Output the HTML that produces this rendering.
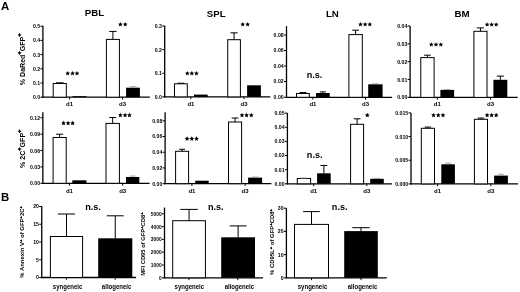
<!DOCTYPE html>
<html><head><meta charset="utf-8"><style>
html,body{margin:0;padding:0;background:#fff;width:520px;height:292px;overflow:hidden}
svg{display:block;filter:grayscale(1)}
text{font-family:"Liberation Sans", sans-serif;fill:#000}
</style></head><body>
<svg width="520" height="292" viewBox="0 0 520 292">
<rect width="520" height="292" fill="#fff"/>
<text transform="translate(1.00 10.10) scale(1.0000 1.0000)" font-size="11.40" font-weight="bold" text-anchor="start">A</text>
<text transform="translate(94.50 16.00) scale(1.0450 1.0000)" font-size="9.30" font-weight="bold" text-anchor="middle">PBL</text>
<text transform="translate(216.25 16.80) scale(1.0450 1.0000)" font-size="9.30" font-weight="bold" text-anchor="middle">SPL</text>
<text transform="translate(332.35 16.70) scale(1.0450 1.0000)" font-size="9.30" font-weight="bold" text-anchor="middle">LN</text>
<text transform="translate(462.05 16.80) scale(1.0450 1.0000)" font-size="9.30" font-weight="bold" text-anchor="middle">BM</text>
<line x1="42.90" y1="25.80" x2="42.90" y2="97.85" stroke="#000" stroke-width="1.3"/>
<line x1="42.25" y1="97.20" x2="149.80" y2="97.20" stroke="#000" stroke-width="1.3"/>
<line x1="40.40" y1="97.20" x2="42.90" y2="97.20" stroke="#000" stroke-width="1.0"/>
<text transform="translate(40.10 99.15) scale(1.0000 1.0000)" font-size="5.20" font-weight="bold" text-anchor="end">0.0</text>
<line x1="40.40" y1="83.00" x2="42.90" y2="83.00" stroke="#000" stroke-width="1.0"/>
<text transform="translate(40.10 84.95) scale(1.0000 1.0000)" font-size="5.20" font-weight="bold" text-anchor="end">0.1</text>
<line x1="40.40" y1="68.80" x2="42.90" y2="68.80" stroke="#000" stroke-width="1.0"/>
<text transform="translate(40.10 70.75) scale(1.0000 1.0000)" font-size="5.20" font-weight="bold" text-anchor="end">0.2</text>
<line x1="40.40" y1="54.60" x2="42.90" y2="54.60" stroke="#000" stroke-width="1.0"/>
<text transform="translate(40.10 56.55) scale(1.0000 1.0000)" font-size="5.20" font-weight="bold" text-anchor="end">0.3</text>
<line x1="40.40" y1="40.40" x2="42.90" y2="40.40" stroke="#000" stroke-width="1.0"/>
<text transform="translate(40.10 42.35) scale(1.0000 1.0000)" font-size="5.20" font-weight="bold" text-anchor="end">0.4</text>
<line x1="40.40" y1="26.20" x2="42.90" y2="26.20" stroke="#000" stroke-width="1.0"/>
<text transform="translate(40.10 28.15) scale(1.0000 1.0000)" font-size="5.20" font-weight="bold" text-anchor="end">0.5</text>
<line x1="69.60" y1="97.20" x2="69.60" y2="99.50" stroke="#000" stroke-width="1.0"/>
<line x1="122.60" y1="97.20" x2="122.60" y2="99.50" stroke="#000" stroke-width="1.0"/>
<text transform="translate(69.60 105.80) scale(1.0000 1.0000)" font-size="6.00" font-weight="bold" text-anchor="middle">d1</text>
<text transform="translate(122.60 105.80) scale(1.0000 1.0000)" font-size="6.00" font-weight="bold" text-anchor="middle">d3</text>
<rect x="53.20" y="83.50" width="13.10" height="13.70" fill="#fff" stroke="#000" stroke-width="1"/>
<line x1="56.00" y1="82.80" x2="63.50" y2="82.80" stroke="#000" stroke-width="1.0"/>
<rect x="72.50" y="96.20" width="14.00" height="1.00" fill="#000"/>
<rect x="106.40" y="39.40" width="13.00" height="57.80" fill="#fff" stroke="#000" stroke-width="1"/>
<line x1="112.90" y1="31.40" x2="112.90" y2="39.40" stroke="#000" stroke-width="1.0"/>
<line x1="109.20" y1="31.40" x2="116.60" y2="31.40" stroke="#000" stroke-width="1.0"/>
<rect x="126.10" y="87.70" width="13.80" height="9.50" fill="#000"/>
<line x1="133.00" y1="86.60" x2="133.00" y2="87.70" stroke="#999" stroke-width="0.8"/>
<line x1="129.50" y1="86.60" x2="136.50" y2="86.60" stroke="#999" stroke-width="0.8"/>
<polygon points="67.70,70.95 68.41,72.43 70.03,72.64 68.84,73.77 69.14,75.38 67.70,74.60 66.26,75.38 66.56,73.77 65.37,72.64 66.99,72.43" fill="#000"/>
<polygon points="72.55,70.95 73.26,72.43 74.88,72.64 73.69,73.77 73.99,75.38 72.55,74.60 71.11,75.38 71.41,73.77 70.22,72.64 71.84,72.43" fill="#000"/>
<polygon points="77.00,70.95 77.71,72.43 79.33,72.64 78.14,73.77 78.44,75.38 77.00,74.60 75.56,75.38 75.86,73.77 74.67,72.64 76.29,72.43" fill="#000"/>
<polygon points="120.40,21.95 121.11,23.43 122.73,23.64 121.54,24.77 121.84,26.38 120.40,25.60 118.96,26.38 119.26,24.77 118.07,23.64 119.69,23.43" fill="#000"/>
<polygon points="125.20,21.95 125.91,23.43 127.53,23.64 126.34,24.77 126.64,26.38 125.20,25.60 123.76,26.38 124.06,24.77 122.87,23.64 124.49,23.43" fill="#000"/>
<line x1="164.70" y1="25.80" x2="164.70" y2="97.55" stroke="#000" stroke-width="1.3"/>
<line x1="164.05" y1="96.90" x2="270.30" y2="96.90" stroke="#000" stroke-width="1.3"/>
<line x1="162.20" y1="96.90" x2="164.70" y2="96.90" stroke="#000" stroke-width="1.0"/>
<text transform="translate(161.90 98.85) scale(1.0000 1.0000)" font-size="5.20" font-weight="bold" text-anchor="end">0.0</text>
<line x1="162.20" y1="73.27" x2="164.70" y2="73.27" stroke="#000" stroke-width="1.0"/>
<text transform="translate(161.90 75.22) scale(1.0000 1.0000)" font-size="5.20" font-weight="bold" text-anchor="end">0.1</text>
<line x1="162.20" y1="49.63" x2="164.70" y2="49.63" stroke="#000" stroke-width="1.0"/>
<text transform="translate(161.90 51.58) scale(1.0000 1.0000)" font-size="5.20" font-weight="bold" text-anchor="end">0.2</text>
<line x1="162.20" y1="26.00" x2="164.70" y2="26.00" stroke="#000" stroke-width="1.0"/>
<text transform="translate(161.90 27.95) scale(1.0000 1.0000)" font-size="5.20" font-weight="bold" text-anchor="end">0.3</text>
<line x1="190.90" y1="96.90" x2="190.90" y2="99.20" stroke="#000" stroke-width="1.0"/>
<line x1="244.00" y1="96.90" x2="244.00" y2="99.20" stroke="#000" stroke-width="1.0"/>
<text transform="translate(190.90 105.80) scale(1.0000 1.0000)" font-size="6.00" font-weight="bold" text-anchor="middle">d1</text>
<text transform="translate(244.00 105.80) scale(1.0000 1.0000)" font-size="6.00" font-weight="bold" text-anchor="middle">d3</text>
<rect x="174.50" y="83.80" width="12.80" height="13.10" fill="#fff" stroke="#000" stroke-width="1"/>
<line x1="177.65" y1="83.20" x2="184.15" y2="83.20" stroke="#000" stroke-width="1.0"/>
<rect x="194.00" y="94.60" width="13.70" height="2.30" fill="#000"/>
<rect x="227.70" y="39.70" width="12.70" height="57.20" fill="#fff" stroke="#000" stroke-width="1"/>
<line x1="234.05" y1="32.85" x2="234.05" y2="39.70" stroke="#000" stroke-width="1.0"/>
<line x1="230.45" y1="32.85" x2="237.65" y2="32.85" stroke="#000" stroke-width="1.0"/>
<rect x="247.10" y="85.30" width="13.80" height="11.60" fill="#000"/>
<polygon points="187.30,70.95 188.01,72.43 189.63,72.64 188.44,73.77 188.74,75.38 187.30,74.60 185.86,75.38 186.16,73.77 184.97,72.64 186.59,72.43" fill="#000"/>
<polygon points="191.80,70.95 192.51,72.43 194.13,72.64 192.94,73.77 193.24,75.38 191.80,74.60 190.36,75.38 190.66,73.77 189.47,72.64 191.09,72.43" fill="#000"/>
<polygon points="196.40,70.95 197.11,72.43 198.73,72.64 197.54,73.77 197.84,75.38 196.40,74.60 194.96,75.38 195.26,73.77 194.07,72.64 195.69,72.43" fill="#000"/>
<polygon points="242.70,21.95 243.41,23.43 245.03,23.64 243.84,24.77 244.14,26.38 242.70,25.60 241.26,26.38 241.56,24.77 240.37,23.64 241.99,23.43" fill="#000"/>
<polygon points="247.65,21.95 248.36,23.43 249.98,23.64 248.79,24.77 249.09,26.38 247.65,25.60 246.21,26.38 246.51,24.77 245.32,23.64 246.94,23.43" fill="#000"/>
<line x1="286.50" y1="26.20" x2="286.50" y2="97.95" stroke="#000" stroke-width="1.3"/>
<line x1="285.85" y1="97.30" x2="392.10" y2="97.30" stroke="#000" stroke-width="1.3"/>
<line x1="284.00" y1="97.30" x2="286.50" y2="97.30" stroke="#000" stroke-width="1.0"/>
<text transform="translate(283.70 99.25) scale(1.0000 1.0000)" font-size="5.20" font-weight="bold" text-anchor="end">0.00</text>
<line x1="284.00" y1="81.50" x2="286.50" y2="81.50" stroke="#000" stroke-width="1.0"/>
<text transform="translate(283.70 83.45) scale(1.0000 1.0000)" font-size="5.20" font-weight="bold" text-anchor="end">0.02</text>
<line x1="284.00" y1="66.00" x2="286.50" y2="66.00" stroke="#000" stroke-width="1.0"/>
<text transform="translate(283.70 67.95) scale(1.0000 1.0000)" font-size="5.20" font-weight="bold" text-anchor="end">0.04</text>
<line x1="284.00" y1="50.50" x2="286.50" y2="50.50" stroke="#000" stroke-width="1.0"/>
<text transform="translate(283.70 52.45) scale(1.0000 1.0000)" font-size="5.20" font-weight="bold" text-anchor="end">0.06</text>
<line x1="284.00" y1="35.00" x2="286.50" y2="35.00" stroke="#000" stroke-width="1.0"/>
<text transform="translate(283.70 36.95) scale(1.0000 1.0000)" font-size="5.20" font-weight="bold" text-anchor="end">0.08</text>
<line x1="312.90" y1="97.30" x2="312.90" y2="99.60" stroke="#000" stroke-width="1.0"/>
<line x1="365.50" y1="97.30" x2="365.50" y2="99.60" stroke="#000" stroke-width="1.0"/>
<text transform="translate(312.90 105.80) scale(1.0000 1.0000)" font-size="6.00" font-weight="bold" text-anchor="middle">d1</text>
<text transform="translate(365.50 105.80) scale(1.0000 1.0000)" font-size="6.00" font-weight="bold" text-anchor="middle">d3</text>
<rect x="296.50" y="93.50" width="12.80" height="3.80" fill="#fff" stroke="#000" stroke-width="1"/>
<line x1="302.90" y1="92.50" x2="302.90" y2="93.50" stroke="#000" stroke-width="1.0"/>
<line x1="299.55" y1="92.50" x2="306.25" y2="92.50" stroke="#000" stroke-width="1.0"/>
<rect x="316.00" y="93.00" width="13.70" height="4.30" fill="#000"/>
<line x1="322.85" y1="91.90" x2="322.85" y2="93.00" stroke="#000" stroke-width="1.0"/>
<line x1="319.85" y1="91.90" x2="325.85" y2="91.90" stroke="#000" stroke-width="1.0"/>
<rect x="348.90" y="34.60" width="13.40" height="62.70" fill="#fff" stroke="#000" stroke-width="1"/>
<line x1="355.60" y1="30.20" x2="355.60" y2="34.60" stroke="#000" stroke-width="1.0"/>
<line x1="352.20" y1="30.20" x2="359.00" y2="30.20" stroke="#000" stroke-width="1.0"/>
<rect x="368.20" y="84.30" width="14.40" height="13.00" fill="#000"/>
<line x1="372.40" y1="83.70" x2="378.40" y2="83.70" stroke="#999" stroke-width="0.8"/>
<polygon points="360.50,21.95 361.21,23.43 362.83,23.64 361.64,24.77 361.94,26.38 360.50,25.60 359.06,26.38 359.36,24.77 358.17,23.64 359.79,23.43" fill="#000"/>
<polygon points="365.10,21.95 365.81,23.43 367.43,23.64 366.24,24.77 366.54,26.38 365.10,25.60 363.66,26.38 363.96,24.77 362.77,23.64 364.39,23.43" fill="#000"/>
<polygon points="369.80,21.95 370.51,23.43 372.13,23.64 370.94,24.77 371.24,26.38 369.80,25.60 368.36,26.38 368.66,24.77 367.47,23.64 369.09,23.43" fill="#000"/>
<text transform="translate(314.50 77.90) scale(0.9500 1.0000)" font-size="9.60" font-weight="bold" text-anchor="middle">n.s.</text>
<line x1="410.10" y1="26.00" x2="410.10" y2="98.05" stroke="#000" stroke-width="1.3"/>
<line x1="409.45" y1="97.40" x2="517.70" y2="97.40" stroke="#000" stroke-width="1.3"/>
<line x1="407.60" y1="97.40" x2="410.10" y2="97.40" stroke="#000" stroke-width="1.0"/>
<text transform="translate(407.30 99.35) scale(1.0000 1.0000)" font-size="5.20" font-weight="bold" text-anchor="end">0.00</text>
<line x1="407.60" y1="79.55" x2="410.10" y2="79.55" stroke="#000" stroke-width="1.0"/>
<text transform="translate(407.30 81.50) scale(1.0000 1.0000)" font-size="5.20" font-weight="bold" text-anchor="end">0.01</text>
<line x1="407.60" y1="61.70" x2="410.10" y2="61.70" stroke="#000" stroke-width="1.0"/>
<text transform="translate(407.30 63.65) scale(1.0000 1.0000)" font-size="5.20" font-weight="bold" text-anchor="end">0.02</text>
<line x1="407.60" y1="43.85" x2="410.10" y2="43.85" stroke="#000" stroke-width="1.0"/>
<text transform="translate(407.30 45.80) scale(1.0000 1.0000)" font-size="5.20" font-weight="bold" text-anchor="end">0.03</text>
<line x1="407.60" y1="26.00" x2="410.10" y2="26.00" stroke="#000" stroke-width="1.0"/>
<text transform="translate(407.30 27.95) scale(1.0000 1.0000)" font-size="5.20" font-weight="bold" text-anchor="end">0.04</text>
<line x1="437.30" y1="97.40" x2="437.30" y2="99.70" stroke="#000" stroke-width="1.0"/>
<line x1="490.50" y1="97.40" x2="490.50" y2="99.70" stroke="#000" stroke-width="1.0"/>
<text transform="translate(437.30 105.80) scale(1.0000 1.0000)" font-size="6.00" font-weight="bold" text-anchor="middle">d1</text>
<text transform="translate(490.50 105.80) scale(1.0000 1.0000)" font-size="6.00" font-weight="bold" text-anchor="middle">d3</text>
<rect x="420.80" y="57.60" width="13.30" height="39.80" fill="#fff" stroke="#000" stroke-width="1"/>
<line x1="427.45" y1="55.20" x2="427.45" y2="57.60" stroke="#000" stroke-width="1.0"/>
<line x1="424.10" y1="55.20" x2="430.80" y2="55.20" stroke="#000" stroke-width="1.0"/>
<rect x="440.40" y="89.90" width="13.70" height="7.50" fill="#000"/>
<line x1="444.25" y1="89.40" x2="450.25" y2="89.40" stroke="#999" stroke-width="0.8"/>
<rect x="473.90" y="31.30" width="13.10" height="66.10" fill="#fff" stroke="#000" stroke-width="1"/>
<line x1="480.45" y1="27.90" x2="480.45" y2="31.30" stroke="#000" stroke-width="1.0"/>
<line x1="476.85" y1="27.90" x2="484.05" y2="27.90" stroke="#000" stroke-width="1.0"/>
<rect x="493.40" y="79.80" width="13.90" height="17.60" fill="#000"/>
<line x1="500.35" y1="76.10" x2="500.35" y2="79.80" stroke="#000" stroke-width="1.0"/>
<line x1="496.75" y1="76.10" x2="503.95" y2="76.10" stroke="#000" stroke-width="1.0"/>
<polygon points="431.30,42.15 432.01,43.63 433.63,43.84 432.44,44.97 432.74,46.58 431.30,45.80 429.86,46.58 430.16,44.97 428.97,43.84 430.59,43.63" fill="#000"/>
<polygon points="436.00,42.15 436.71,43.63 438.33,43.84 437.14,44.97 437.44,46.58 436.00,45.80 434.56,46.58 434.86,44.97 433.67,43.84 435.29,43.63" fill="#000"/>
<polygon points="440.80,42.15 441.51,43.63 443.13,43.84 441.94,44.97 442.24,46.58 440.80,45.80 439.36,46.58 439.66,44.97 438.47,43.84 440.09,43.63" fill="#000"/>
<polygon points="487.10,22.15 487.81,23.63 489.43,23.84 488.24,24.97 488.54,26.58 487.10,25.80 485.66,26.58 485.96,24.97 484.77,23.84 486.39,23.63" fill="#000"/>
<polygon points="491.65,22.15 492.36,23.63 493.98,23.84 492.79,24.97 493.09,26.58 491.65,25.80 490.21,26.58 490.51,24.97 489.32,23.84 490.94,23.63" fill="#000"/>
<polygon points="496.20,22.15 496.91,23.63 498.53,23.84 497.34,24.97 497.64,26.58 496.20,25.80 494.76,26.58 495.06,24.97 493.87,23.84 495.49,23.63" fill="#000"/>
<line x1="42.85" y1="112.20" x2="42.85" y2="183.95" stroke="#000" stroke-width="1.3"/>
<line x1="42.20" y1="183.30" x2="149.60" y2="183.30" stroke="#000" stroke-width="1.3"/>
<line x1="40.35" y1="183.30" x2="42.85" y2="183.30" stroke="#000" stroke-width="1.0"/>
<text transform="translate(40.05 185.25) scale(1.0000 1.0000)" font-size="5.20" font-weight="bold" text-anchor="end">0.00</text>
<line x1="40.35" y1="166.93" x2="42.85" y2="166.93" stroke="#000" stroke-width="1.0"/>
<text transform="translate(40.05 168.88) scale(1.0000 1.0000)" font-size="5.20" font-weight="bold" text-anchor="end">0.03</text>
<line x1="40.35" y1="150.55" x2="42.85" y2="150.55" stroke="#000" stroke-width="1.0"/>
<text transform="translate(40.05 152.50) scale(1.0000 1.0000)" font-size="5.20" font-weight="bold" text-anchor="end">0.06</text>
<line x1="40.35" y1="134.18" x2="42.85" y2="134.18" stroke="#000" stroke-width="1.0"/>
<text transform="translate(40.05 136.12) scale(1.0000 1.0000)" font-size="5.20" font-weight="bold" text-anchor="end">0.09</text>
<line x1="40.35" y1="117.80" x2="42.85" y2="117.80" stroke="#000" stroke-width="1.0"/>
<text transform="translate(40.05 119.75) scale(1.0000 1.0000)" font-size="5.20" font-weight="bold" text-anchor="end">0.12</text>
<line x1="69.40" y1="183.30" x2="69.40" y2="185.60" stroke="#000" stroke-width="1.0"/>
<line x1="122.70" y1="183.30" x2="122.70" y2="185.60" stroke="#000" stroke-width="1.0"/>
<text transform="translate(69.40 192.60) scale(1.0000 1.0000)" font-size="6.00" font-weight="bold" text-anchor="middle">d1</text>
<text transform="translate(122.70 192.60) scale(1.0000 1.0000)" font-size="6.00" font-weight="bold" text-anchor="middle">d3</text>
<rect x="53.10" y="137.50" width="13.10" height="45.80" fill="#fff" stroke="#000" stroke-width="1"/>
<line x1="59.65" y1="134.20" x2="59.65" y2="137.50" stroke="#000" stroke-width="1.0"/>
<line x1="56.15" y1="134.20" x2="63.15" y2="134.20" stroke="#000" stroke-width="1.0"/>
<rect x="72.30" y="180.30" width="14.10" height="3.00" fill="#000"/>
<rect x="106.00" y="123.40" width="13.40" height="59.90" fill="#fff" stroke="#000" stroke-width="1"/>
<line x1="112.70" y1="117.50" x2="112.70" y2="123.40" stroke="#000" stroke-width="1.0"/>
<line x1="109.20" y1="117.50" x2="116.20" y2="117.50" stroke="#000" stroke-width="1.0"/>
<rect x="126.00" y="177.00" width="13.30" height="6.30" fill="#000"/>
<line x1="132.65" y1="176.00" x2="132.65" y2="177.00" stroke="#999" stroke-width="0.8"/>
<line x1="129.65" y1="176.00" x2="135.65" y2="176.00" stroke="#999" stroke-width="0.8"/>
<polygon points="63.50,120.75 64.21,122.23 65.83,122.44 64.64,123.57 64.94,125.18 63.50,124.40 62.06,125.18 62.36,123.57 61.17,122.44 62.79,122.23" fill="#000"/>
<polygon points="68.10,120.75 68.81,122.23 70.43,122.44 69.24,123.57 69.54,125.18 68.10,124.40 66.66,125.18 66.96,123.57 65.77,122.44 67.39,122.23" fill="#000"/>
<polygon points="72.60,120.75 73.31,122.23 74.93,122.44 73.74,123.57 74.04,125.18 72.60,124.40 71.16,125.18 71.46,123.57 70.27,122.44 71.89,122.23" fill="#000"/>
<polygon points="120.40,112.75 121.11,114.23 122.73,114.44 121.54,115.57 121.84,117.18 120.40,116.40 118.96,117.18 119.26,115.57 118.07,114.44 119.69,114.23" fill="#000"/>
<polygon points="125.10,112.75 125.81,114.23 127.43,114.44 126.24,115.57 126.54,117.18 125.10,116.40 123.66,117.18 123.96,115.57 122.77,114.44 124.39,114.23" fill="#000"/>
<polygon points="129.45,112.75 130.16,114.23 131.78,114.44 130.59,115.57 130.89,117.18 129.45,116.40 128.01,117.18 128.31,115.57 127.12,114.44 128.74,114.23" fill="#000"/>
<line x1="165.10" y1="112.30" x2="165.10" y2="184.30" stroke="#000" stroke-width="1.3"/>
<line x1="164.45" y1="183.65" x2="271.40" y2="183.65" stroke="#000" stroke-width="1.3"/>
<line x1="162.60" y1="183.65" x2="165.10" y2="183.65" stroke="#000" stroke-width="1.0"/>
<text transform="translate(162.30 185.60) scale(1.0000 1.0000)" font-size="5.20" font-weight="bold" text-anchor="end">0.00</text>
<line x1="162.60" y1="167.94" x2="165.10" y2="167.94" stroke="#000" stroke-width="1.0"/>
<text transform="translate(162.30 169.89) scale(1.0000 1.0000)" font-size="5.20" font-weight="bold" text-anchor="end">0.02</text>
<line x1="162.60" y1="152.22" x2="165.10" y2="152.22" stroke="#000" stroke-width="1.0"/>
<text transform="translate(162.30 154.17) scale(1.0000 1.0000)" font-size="5.20" font-weight="bold" text-anchor="end">0.04</text>
<line x1="162.60" y1="136.51" x2="165.10" y2="136.51" stroke="#000" stroke-width="1.0"/>
<text transform="translate(162.30 138.46) scale(1.0000 1.0000)" font-size="5.20" font-weight="bold" text-anchor="end">0.06</text>
<line x1="162.60" y1="120.80" x2="165.10" y2="120.80" stroke="#000" stroke-width="1.0"/>
<text transform="translate(162.30 122.75) scale(1.0000 1.0000)" font-size="5.20" font-weight="bold" text-anchor="end">0.08</text>
<line x1="191.90" y1="183.65" x2="191.90" y2="185.95" stroke="#000" stroke-width="1.0"/>
<line x1="245.10" y1="183.65" x2="245.10" y2="185.95" stroke="#000" stroke-width="1.0"/>
<text transform="translate(191.90 192.60) scale(1.0000 1.0000)" font-size="6.00" font-weight="bold" text-anchor="middle">d1</text>
<text transform="translate(245.10 192.60) scale(1.0000 1.0000)" font-size="6.00" font-weight="bold" text-anchor="middle">d3</text>
<rect x="175.60" y="151.30" width="13.00" height="32.35" fill="#fff" stroke="#000" stroke-width="1"/>
<line x1="182.10" y1="149.30" x2="182.10" y2="151.30" stroke="#000" stroke-width="1.0"/>
<line x1="179.10" y1="149.30" x2="185.10" y2="149.30" stroke="#000" stroke-width="1.0"/>
<rect x="195.20" y="180.70" width="13.50" height="2.95" fill="#000"/>
<rect x="228.50" y="122.00" width="13.10" height="61.65" fill="#fff" stroke="#000" stroke-width="1"/>
<line x1="235.05" y1="118.00" x2="235.05" y2="122.00" stroke="#000" stroke-width="1.0"/>
<line x1="231.65" y1="118.00" x2="238.45" y2="118.00" stroke="#000" stroke-width="1.0"/>
<rect x="248.10" y="177.60" width="14.00" height="6.05" fill="#000"/>
<line x1="252.10" y1="177.00" x2="258.10" y2="177.00" stroke="#999" stroke-width="0.8"/>
<polygon points="187.10,136.35 187.81,137.83 189.43,138.04 188.24,139.17 188.54,140.78 187.10,140.00 185.66,140.78 185.96,139.17 184.77,138.04 186.39,137.83" fill="#000"/>
<polygon points="191.80,136.35 192.51,137.83 194.13,138.04 192.94,139.17 193.24,140.78 191.80,140.00 190.36,140.78 190.66,139.17 189.47,138.04 191.09,137.83" fill="#000"/>
<polygon points="196.60,136.35 197.31,137.83 198.93,138.04 197.74,139.17 198.04,140.78 196.60,140.00 195.16,140.78 195.46,139.17 194.27,138.04 195.89,137.83" fill="#000"/>
<polygon points="242.00,112.75 242.71,114.23 244.33,114.44 243.14,115.57 243.44,117.18 242.00,116.40 240.56,117.18 240.86,115.57 239.67,114.44 241.29,114.23" fill="#000"/>
<polygon points="246.60,112.75 247.31,114.23 248.93,114.44 247.74,115.57 248.04,117.18 246.60,116.40 245.16,117.18 245.46,115.57 244.27,114.44 245.89,114.23" fill="#000"/>
<polygon points="251.30,112.75 252.01,114.23 253.63,114.44 252.44,115.57 252.74,117.18 251.30,116.40 249.86,117.18 250.16,115.57 248.97,114.44 250.59,114.23" fill="#000"/>
<line x1="287.40" y1="113.10" x2="287.40" y2="184.45" stroke="#000" stroke-width="1.3"/>
<line x1="286.75" y1="183.80" x2="391.90" y2="183.80" stroke="#000" stroke-width="1.3"/>
<line x1="284.90" y1="183.80" x2="287.40" y2="183.80" stroke="#000" stroke-width="1.0"/>
<text transform="translate(284.60 185.75) scale(1.0000 1.0000)" font-size="5.20" font-weight="bold" text-anchor="end">0.00</text>
<line x1="284.90" y1="169.66" x2="287.40" y2="169.66" stroke="#000" stroke-width="1.0"/>
<text transform="translate(284.60 171.61) scale(1.0000 1.0000)" font-size="5.20" font-weight="bold" text-anchor="end">0.01</text>
<line x1="284.90" y1="155.52" x2="287.40" y2="155.52" stroke="#000" stroke-width="1.0"/>
<text transform="translate(284.60 157.47) scale(1.0000 1.0000)" font-size="5.20" font-weight="bold" text-anchor="end">0.02</text>
<line x1="284.90" y1="141.38" x2="287.40" y2="141.38" stroke="#000" stroke-width="1.0"/>
<text transform="translate(284.60 143.33) scale(1.0000 1.0000)" font-size="5.20" font-weight="bold" text-anchor="end">0.03</text>
<line x1="284.90" y1="127.24" x2="287.40" y2="127.24" stroke="#000" stroke-width="1.0"/>
<text transform="translate(284.60 129.19) scale(1.0000 1.0000)" font-size="5.20" font-weight="bold" text-anchor="end">0.04</text>
<line x1="284.90" y1="113.10" x2="287.40" y2="113.10" stroke="#000" stroke-width="1.0"/>
<text transform="translate(284.60 115.05) scale(1.0000 1.0000)" font-size="5.20" font-weight="bold" text-anchor="end">0.05</text>
<line x1="313.70" y1="183.80" x2="313.70" y2="186.10" stroke="#000" stroke-width="1.0"/>
<line x1="366.80" y1="183.80" x2="366.80" y2="186.10" stroke="#000" stroke-width="1.0"/>
<text transform="translate(313.70 192.60) scale(1.0000 1.0000)" font-size="6.00" font-weight="bold" text-anchor="middle">d1</text>
<text transform="translate(366.80 192.60) scale(1.0000 1.0000)" font-size="6.00" font-weight="bold" text-anchor="middle">d3</text>
<rect x="297.30" y="178.50" width="13.30" height="5.30" fill="#fff" stroke="#000" stroke-width="1"/>
<line x1="300.95" y1="178.00" x2="306.95" y2="178.00" stroke="#999" stroke-width="0.8"/>
<rect x="317.10" y="173.30" width="13.60" height="10.50" fill="#000"/>
<line x1="323.90" y1="165.50" x2="323.90" y2="173.30" stroke="#000" stroke-width="1.0"/>
<line x1="320.45" y1="165.50" x2="327.35" y2="165.50" stroke="#000" stroke-width="1.0"/>
<rect x="350.60" y="124.30" width="13.00" height="59.50" fill="#fff" stroke="#000" stroke-width="1"/>
<line x1="357.10" y1="118.80" x2="357.10" y2="124.30" stroke="#000" stroke-width="1.0"/>
<line x1="353.70" y1="118.80" x2="360.50" y2="118.80" stroke="#000" stroke-width="1.0"/>
<rect x="370.20" y="178.80" width="13.60" height="5.00" fill="#000"/>
<line x1="374.00" y1="178.30" x2="380.00" y2="178.30" stroke="#999" stroke-width="0.8"/>
<polygon points="367.30,112.85 368.01,114.33 369.63,114.54 368.44,115.67 368.74,117.28 367.30,116.50 365.86,117.28 366.16,115.67 364.97,114.54 366.59,114.33" fill="#000"/>
<text transform="translate(314.70 157.90) scale(0.9500 1.0000)" font-size="9.60" font-weight="bold" text-anchor="middle">n.s.</text>
<line x1="411.00" y1="112.90" x2="411.00" y2="184.55" stroke="#000" stroke-width="1.3"/>
<line x1="410.35" y1="183.90" x2="518.10" y2="183.90" stroke="#000" stroke-width="1.3"/>
<line x1="408.50" y1="183.90" x2="411.00" y2="183.90" stroke="#000" stroke-width="1.0"/>
<text transform="translate(408.20 185.85) scale(1.0000 1.0000)" font-size="5.20" font-weight="bold" text-anchor="end">0.000</text>
<line x1="408.50" y1="160.23" x2="411.00" y2="160.23" stroke="#000" stroke-width="1.0"/>
<text transform="translate(408.20 162.18) scale(1.0000 1.0000)" font-size="5.20" font-weight="bold" text-anchor="end">0.005</text>
<line x1="408.50" y1="136.57" x2="411.00" y2="136.57" stroke="#000" stroke-width="1.0"/>
<text transform="translate(408.20 138.52) scale(1.0000 1.0000)" font-size="5.20" font-weight="bold" text-anchor="end">0.010</text>
<line x1="408.50" y1="112.90" x2="411.00" y2="112.90" stroke="#000" stroke-width="1.0"/>
<text transform="translate(408.20 114.85) scale(1.0000 1.0000)" font-size="5.20" font-weight="bold" text-anchor="end">0.015</text>
<line x1="437.60" y1="183.90" x2="437.60" y2="186.20" stroke="#000" stroke-width="1.0"/>
<line x1="490.80" y1="183.90" x2="490.80" y2="186.20" stroke="#000" stroke-width="1.0"/>
<text transform="translate(437.60 192.60) scale(1.0000 1.0000)" font-size="6.00" font-weight="bold" text-anchor="middle">d1</text>
<text transform="translate(490.80 192.60) scale(1.0000 1.0000)" font-size="6.00" font-weight="bold" text-anchor="middle">d3</text>
<rect x="421.30" y="128.30" width="13.20" height="55.60" fill="#fff" stroke="#000" stroke-width="1"/>
<line x1="427.90" y1="127.10" x2="427.90" y2="128.30" stroke="#000" stroke-width="1.0"/>
<line x1="424.65" y1="127.10" x2="431.15" y2="127.10" stroke="#000" stroke-width="1.0"/>
<rect x="441.30" y="164.30" width="13.60" height="19.60" fill="#000"/>
<line x1="448.10" y1="163.10" x2="448.10" y2="164.30" stroke="#999" stroke-width="0.8"/>
<line x1="444.85" y1="163.10" x2="451.35" y2="163.10" stroke="#999" stroke-width="0.8"/>
<rect x="474.40" y="119.30" width="13.10" height="64.60" fill="#fff" stroke="#000" stroke-width="1"/>
<line x1="480.95" y1="118.10" x2="480.95" y2="119.30" stroke="#000" stroke-width="1.0"/>
<line x1="477.70" y1="118.10" x2="484.20" y2="118.10" stroke="#000" stroke-width="1.0"/>
<rect x="494.10" y="175.60" width="13.80" height="8.30" fill="#000"/>
<line x1="501.00" y1="174.20" x2="501.00" y2="175.60" stroke="#999" stroke-width="0.8"/>
<line x1="498.00" y1="174.20" x2="504.00" y2="174.20" stroke="#999" stroke-width="0.8"/>
<polygon points="433.50,112.75 434.21,114.23 435.83,114.44 434.64,115.57 434.94,117.18 433.50,116.40 432.06,117.18 432.36,115.57 431.17,114.44 432.79,114.23" fill="#000"/>
<polygon points="438.30,112.75 439.01,114.23 440.63,114.44 439.44,115.57 439.74,117.18 438.30,116.40 436.86,117.18 437.16,115.57 435.97,114.44 437.59,114.23" fill="#000"/>
<polygon points="443.00,112.75 443.71,114.23 445.33,114.44 444.14,115.57 444.44,117.18 443.00,116.40 441.56,117.18 441.86,115.57 440.67,114.44 442.29,114.23" fill="#000"/>
<polygon points="487.10,112.75 487.81,114.23 489.43,114.44 488.24,115.57 488.54,117.18 487.10,116.40 485.66,117.18 485.96,115.57 484.77,114.44 486.39,114.23" fill="#000"/>
<polygon points="491.65,112.75 492.36,114.23 493.98,114.44 492.79,115.57 493.09,117.18 491.65,116.40 490.21,117.18 490.51,115.57 489.32,114.44 490.94,114.23" fill="#000"/>
<polygon points="496.20,112.75 496.91,114.23 498.53,114.44 497.34,115.57 497.64,117.18 496.20,116.40 494.76,117.18 495.06,115.57 493.87,114.44 495.49,114.23" fill="#000"/>
<text transform="translate(24.90 59.30) rotate(-90) scale(1.0000 1.0000)" font-size="7.05" font-weight="bold" text-anchor="middle">% DaRed<tspan font-size="5.60" dy="-3.70" stroke="#000" stroke-width="0.45">+</tspan><tspan dy="3.70">GFP</tspan><tspan font-size="5.80" dy="-3.70" stroke="#000" stroke-width="0.45">+</tspan></text>
<text transform="translate(25.00 148.70) rotate(-90) scale(1.0000 1.0000)" font-size="7.05" font-weight="bold" text-anchor="middle">% 2C<tspan font-size="5.60" dy="-3.70" stroke="#000" stroke-width="0.45">+</tspan><tspan dy="3.70">GFP</tspan><tspan font-size="5.80" dy="-3.70" stroke="#000" stroke-width="0.45">+</tspan></text>
<text transform="translate(1.00 201.05) scale(1.0000 1.0000)" font-size="11.40" font-weight="bold" text-anchor="start">B</text>
<line x1="41.75" y1="206.20" x2="41.75" y2="278.15" stroke="#000" stroke-width="1.3"/>
<line x1="41.10" y1="277.50" x2="136.00" y2="277.50" stroke="#000" stroke-width="1.3"/>
<line x1="39.25" y1="277.50" x2="41.75" y2="277.50" stroke="#000" stroke-width="1.0"/>
<text transform="translate(38.95 279.45) scale(1.0000 1.0000)" font-size="5.20" font-weight="bold" text-anchor="end">0</text>
<line x1="39.25" y1="259.75" x2="41.75" y2="259.75" stroke="#000" stroke-width="1.0"/>
<text transform="translate(38.95 261.70) scale(1.0000 1.0000)" font-size="5.20" font-weight="bold" text-anchor="end">5</text>
<line x1="39.25" y1="242.00" x2="41.75" y2="242.00" stroke="#000" stroke-width="1.0"/>
<text transform="translate(38.95 243.95) scale(1.0000 1.0000)" font-size="5.20" font-weight="bold" text-anchor="end">10</text>
<line x1="39.25" y1="224.25" x2="41.75" y2="224.25" stroke="#000" stroke-width="1.0"/>
<text transform="translate(38.95 226.20) scale(1.0000 1.0000)" font-size="5.20" font-weight="bold" text-anchor="end">15</text>
<line x1="39.25" y1="206.50" x2="41.75" y2="206.50" stroke="#000" stroke-width="1.0"/>
<text transform="translate(38.95 208.45) scale(1.0000 1.0000)" font-size="5.20" font-weight="bold" text-anchor="end">20</text>
<line x1="66.40" y1="277.50" x2="66.40" y2="279.80" stroke="#000" stroke-width="1.0"/>
<line x1="115.20" y1="277.50" x2="115.20" y2="279.80" stroke="#000" stroke-width="1.0"/>
<text transform="translate(67.60 289.00) scale(0.8750 1.0000)" font-size="6.90" font-weight="bold" text-anchor="middle">syngeneic</text>
<text transform="translate(116.60 289.00) scale(0.8750 1.0000)" font-size="6.90" font-weight="bold" text-anchor="middle">allogeneic</text>
<rect x="50.40" y="236.50" width="32.20" height="41.00" fill="#fff" stroke="#000" stroke-width="1"/>
<line x1="66.50" y1="214.00" x2="66.50" y2="236.50" stroke="#000" stroke-width="1.0"/>
<line x1="57.95" y1="214.00" x2="75.05" y2="214.00" stroke="#000" stroke-width="1.0"/>
<rect x="98.20" y="238.30" width="34.10" height="39.20" fill="#000"/>
<line x1="115.25" y1="215.80" x2="115.25" y2="238.30" stroke="#000" stroke-width="1.0"/>
<line x1="106.85" y1="215.80" x2="123.65" y2="215.80" stroke="#000" stroke-width="1.0"/>
<text transform="translate(93.00 210.00) scale(0.9500 1.0000)" font-size="9.60" font-weight="bold" text-anchor="middle">n.s.</text>
<text transform="translate(24.30 241.90) rotate(-90) scale(1.0000 1.0000)" font-size="5.95" font-weight="bold" text-anchor="middle">% Annexin V<tspan font-size="4.20" dy="-2.40" stroke="#000" stroke-width="0.30">+</tspan><tspan dy="2.40"> of GFP</tspan><tspan font-size="4.20" dy="-2.40" stroke="#000" stroke-width="0.30">+</tspan><tspan dy="2.40">2C</tspan><tspan font-size="4.20" dy="-2.40" stroke="#000" stroke-width="0.30">+</tspan></text>
<line x1="164.50" y1="207.60" x2="164.50" y2="278.45" stroke="#000" stroke-width="1.3"/>
<line x1="163.85" y1="277.80" x2="263.10" y2="277.80" stroke="#000" stroke-width="1.3"/>
<line x1="162.00" y1="277.80" x2="164.50" y2="277.80" stroke="#000" stroke-width="1.0"/>
<text transform="translate(161.70 279.75) scale(1.0000 1.0000)" font-size="4.90" font-weight="bold" text-anchor="end">0</text>
<line x1="162.00" y1="265.00" x2="164.50" y2="265.00" stroke="#000" stroke-width="1.0"/>
<text transform="translate(161.70 266.95) scale(1.0000 1.0000)" font-size="4.90" font-weight="bold" text-anchor="end">1000</text>
<line x1="162.00" y1="252.20" x2="164.50" y2="252.20" stroke="#000" stroke-width="1.0"/>
<text transform="translate(161.70 254.15) scale(1.0000 1.0000)" font-size="4.90" font-weight="bold" text-anchor="end">2000</text>
<line x1="162.00" y1="239.40" x2="164.50" y2="239.40" stroke="#000" stroke-width="1.0"/>
<text transform="translate(161.70 241.35) scale(1.0000 1.0000)" font-size="4.90" font-weight="bold" text-anchor="end">3000</text>
<line x1="162.00" y1="226.60" x2="164.50" y2="226.60" stroke="#000" stroke-width="1.0"/>
<text transform="translate(161.70 228.55) scale(1.0000 1.0000)" font-size="4.90" font-weight="bold" text-anchor="end">4000</text>
<line x1="162.00" y1="213.80" x2="164.50" y2="213.80" stroke="#000" stroke-width="1.0"/>
<text transform="translate(161.70 215.75) scale(1.0000 1.0000)" font-size="4.90" font-weight="bold" text-anchor="end">5000</text>
<line x1="188.90" y1="277.80" x2="188.90" y2="280.10" stroke="#000" stroke-width="1.0"/>
<line x1="237.80" y1="277.80" x2="237.80" y2="280.10" stroke="#000" stroke-width="1.0"/>
<text transform="translate(189.30 289.00) scale(0.8750 1.0000)" font-size="6.90" font-weight="bold" text-anchor="middle">syngeneic</text>
<text transform="translate(239.40 289.00) scale(0.8750 1.0000)" font-size="6.90" font-weight="bold" text-anchor="middle">allogeneic</text>
<rect x="172.70" y="220.70" width="32.70" height="57.10" fill="#fff" stroke="#000" stroke-width="1"/>
<line x1="189.05" y1="209.40" x2="189.05" y2="220.70" stroke="#000" stroke-width="1.0"/>
<line x1="180.25" y1="209.40" x2="197.85" y2="209.40" stroke="#000" stroke-width="1.0"/>
<rect x="221.20" y="237.30" width="33.80" height="40.50" fill="#000"/>
<line x1="238.10" y1="225.90" x2="238.10" y2="237.30" stroke="#000" stroke-width="1.0"/>
<line x1="229.65" y1="225.90" x2="246.55" y2="225.90" stroke="#000" stroke-width="1.0"/>
<text transform="translate(215.80 210.00) scale(0.9500 1.0000)" font-size="9.60" font-weight="bold" text-anchor="middle">n.s.</text>
<text transform="translate(145.40 244.10) rotate(-90) scale(1.0000 1.0000)" font-size="5.80" font-weight="bold" text-anchor="middle">MFI CD95 of GFP<tspan font-size="4.20" dy="-2.40" stroke="#000" stroke-width="0.30">+</tspan><tspan dy="2.40">CD8</tspan><tspan font-size="4.20" dy="-2.40" stroke="#000" stroke-width="0.30">+</tspan></text>
<line x1="286.40" y1="208.20" x2="286.40" y2="278.45" stroke="#000" stroke-width="1.3"/>
<line x1="285.75" y1="277.80" x2="386.80" y2="277.80" stroke="#000" stroke-width="1.3"/>
<line x1="283.90" y1="277.80" x2="286.40" y2="277.80" stroke="#000" stroke-width="1.0"/>
<text transform="translate(283.60 279.75) scale(1.0000 1.0000)" font-size="5.20" font-weight="bold" text-anchor="end">0</text>
<line x1="283.90" y1="254.60" x2="286.40" y2="254.60" stroke="#000" stroke-width="1.0"/>
<text transform="translate(283.60 256.55) scale(1.0000 1.0000)" font-size="5.20" font-weight="bold" text-anchor="end">10</text>
<line x1="283.90" y1="231.40" x2="286.40" y2="231.40" stroke="#000" stroke-width="1.0"/>
<text transform="translate(283.60 233.35) scale(1.0000 1.0000)" font-size="5.20" font-weight="bold" text-anchor="end">20</text>
<line x1="283.90" y1="208.20" x2="286.40" y2="208.20" stroke="#000" stroke-width="1.0"/>
<text transform="translate(283.60 210.15) scale(1.0000 1.0000)" font-size="5.20" font-weight="bold" text-anchor="end">30</text>
<line x1="311.50" y1="277.80" x2="311.50" y2="280.10" stroke="#000" stroke-width="1.0"/>
<line x1="361.00" y1="277.80" x2="361.00" y2="280.10" stroke="#000" stroke-width="1.0"/>
<text transform="translate(312.50 289.00) scale(0.8750 1.0000)" font-size="6.90" font-weight="bold" text-anchor="middle">syngeneic</text>
<text transform="translate(362.50 289.00) scale(0.8750 1.0000)" font-size="6.90" font-weight="bold" text-anchor="middle">allogeneic</text>
<rect x="294.50" y="224.40" width="34.00" height="53.40" fill="#fff" stroke="#000" stroke-width="1"/>
<line x1="311.50" y1="211.60" x2="311.50" y2="224.40" stroke="#000" stroke-width="1.0"/>
<line x1="303.15" y1="211.60" x2="319.85" y2="211.60" stroke="#000" stroke-width="1.0"/>
<rect x="344.20" y="231.10" width="33.60" height="46.70" fill="#000"/>
<line x1="361.00" y1="227.70" x2="361.00" y2="231.10" stroke="#000" stroke-width="1.0"/>
<line x1="352.25" y1="227.70" x2="369.75" y2="227.70" stroke="#000" stroke-width="1.0"/>
<text transform="translate(339.70 210.00) scale(0.9500 1.0000)" font-size="9.60" font-weight="bold" text-anchor="middle">n.s.</text>
<text transform="translate(274.40 242.00) rotate(-90) scale(1.0000 1.0000)" font-size="5.95" font-weight="bold" text-anchor="middle">% CD95L<tspan font-size="4.20" dy="-2.40" stroke="#000" stroke-width="0.30">+</tspan><tspan dy="2.40"> of GFP</tspan><tspan font-size="4.20" dy="-2.40" stroke="#000" stroke-width="0.30">+</tspan><tspan dy="2.40">CD8</tspan><tspan font-size="4.20" dy="-2.40" stroke="#000" stroke-width="0.30">+</tspan></text>
</svg>
</body></html>
